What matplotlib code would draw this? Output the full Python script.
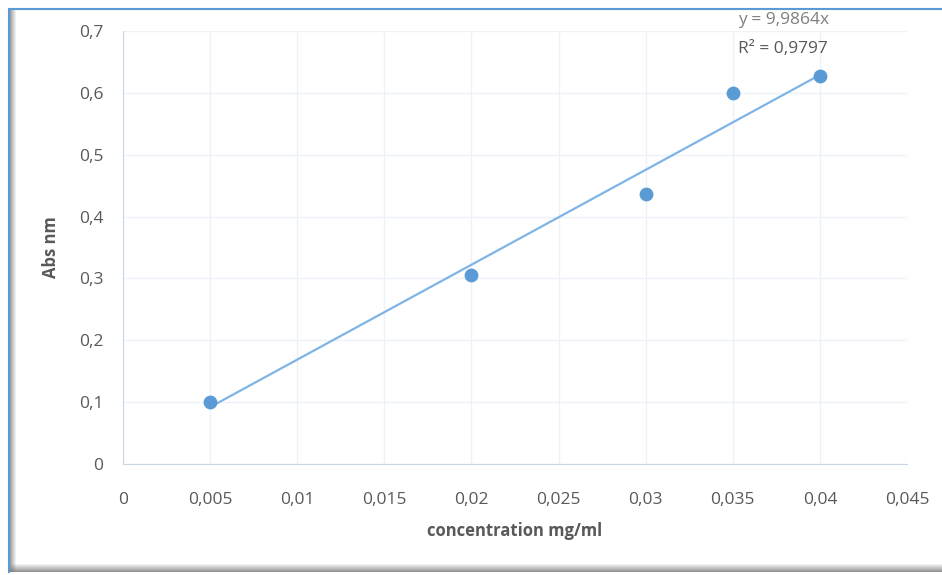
import matplotlib.pyplot as plt
from matplotlib.patches import Rectangle
from matplotlib.lines import Line2D
from matplotlib.ticker import FuncFormatter, MultipleLocator

conc = [0.005, 0.02, 0.03, 0.035, 0.04]
absorb = [0.101, 0.306, 0.436, 0.599, 0.628]
# droite de tendance telle que dessinée (extrémités)
trend_x = [0.005, 0.04]
trend_y = [0.092, 0.629]
eq_label = 'y = 9,9864x'
r2_label = 'R² = 0,9797'

plt.rcParams['font.family'] = ['Open Sans', 'DejaVu Sans']
grey = '#595959'
blue = '#5B9BD5'

W, H = 942, 575
fig = plt.figure(figsize=(W / 100, H / 100), dpi=100)

# cadre : ombre grise à gauche et en bas, liseré bleu
for i in range(7):
    fig.patches.append(Rectangle(((9 + i) / W, 3 / H), 1 / W, (H - 12) / H, transform=fig.transFigure,
                                 facecolor='#7a7a7a', alpha=0.8 * (1 - i / 7), edgecolor='none', zorder=-2))
for i in range(8):
    fig.patches.append(Rectangle((9 / W, (3 + i) / H), (W - 9) / W, 1 / H, transform=fig.transFigure,
                                 facecolor='#7a7a7a', alpha=0.8 * (1 - i / 8), edgecolor='none', zorder=-2))
fig.lines.append(Line2D([8.5 / W, 8.5 / W], [3 / H, 1 - 8.5 / H], transform=fig.transFigure,
                        color='#5b9bd5', lw=1.5))
fig.lines.append(Line2D([8.5 / W, 1], [1 - 8.5 / H, 1 - 8.5 / H], transform=fig.transFigure,
                        color='#5b9bd5', lw=1.5))

ax = fig.add_axes([123 / W, 1 - 464 / H, 784 / W, 433 / H])
ax.set_xlim(0, 0.045)
ax.set_ylim(0, 0.7)
ax.xaxis.set_major_locator(MultipleLocator(0.005))
ax.yaxis.set_major_locator(MultipleLocator(0.1))

def virgule(v, pos):
    s = ('%.3f' % v).rstrip('0').rstrip('.')
    return s.replace('.', ',')

ax.xaxis.set_major_formatter(FuncFormatter(virgule))
ax.yaxis.set_major_formatter(FuncFormatter(virgule))

ax.grid(True, color='#eef2f8', lw=1)
ax.set_axisbelow(True)
for s in ['top', 'right']:
    ax.spines[s].set_visible(False)
ax.spines['left'].set_color('#c9d6ea')
ax.spines['bottom'].set_color('#c9d6ea')
ax.tick_params(length=0, colors=grey, labelsize=12.5, pad=14)
ax.tick_params(axis='x', pad=20)

ax.scatter(conc, absorb, s=80, color=blue, zorder=3)
ax.plot(trend_x, trend_y, color='#7fb4e6', lw=1.6, zorder=2)

ax.text(0.0353, 0.705, eq_label, color='#7f7f7f', fontsize=12.5, va='bottom')
ax.text(0.0353, 0.658, r2_label, color=grey, fontsize=12.5, va='bottom')

ax.set_xlabel('concentration mg/ml', color=grey, fontsize=12, fontweight='bold', labelpad=10)
ax.set_ylabel('Abs nm', color=grey, fontsize=12, fontweight='bold', labelpad=14)

fig.savefig('out.png', dpi=100)
